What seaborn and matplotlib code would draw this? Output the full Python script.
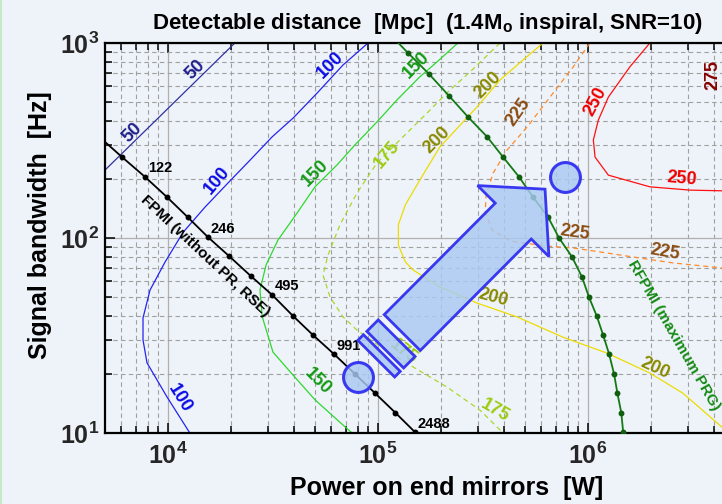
import numpy as np
import seaborn as sns
import matplotlib
matplotlib.use("Agg")
import matplotlib.pyplot as plt
from matplotlib.ticker import LogLocator, FuncFormatter, NullFormatter
from matplotlib.patches import Polygon
from matplotlib.colors import to_rgba

# Seaborn base, then fonts
sns.set_theme(style="ticks")
plt.rcParams.update({
    "font.family": ["Liberation Sans", "DejaVu Sans"],
    "font.weight": "bold",
    "mathtext.fontset": "custom",
    "mathtext.rm": "Liberation Sans:bold",
    "mathtext.it": "Liberation Sans:italic:bold",
    "mathtext.bf": "Liberation Sans:bold",
})

bg = "#eef3f9"

# contour lines of detectable distance (power [W], bandwidth [Hz])
c50_p = [5.01e3, 2.08e4]
c50_f = [223, 1000]

c100_p = [8.96e4, 6.81e4, 5.13e4, 3.94e4, 3.13e4, 2.46e4, 1.97e4, 1.50e4, 1.18e4,
          9.68e3, 8.21e3, 7.60e3, 7.60e3, 7.94e3, 9.89e3, 1.27e4]
c100_f = [1000, 771, 554, 412, 330, 251, 196, 144, 107, 75.3, 54.1, 38.9, 30.0, 22.9, 15.3, 10]

c150_p = [2.40e5, 1.91e5, 1.58e5, 1.23e5, 9.89e4, 7.76e4, 6.38e4, 5.01e4, 4.11e4,
          3.34e4, 2.93e4, 2.74e4, 2.81e4, 3.16e4, 3.94e4, 5.01e4, 6.38e4, 7.52e4]
c150_f = [1000, 800, 670, 510, 394, 300, 237, 183, 134, 97.7, 72.8, 54.1, 39.4, 26.0,
          19.8, 14.8, 11.7, 10]

c175_p = [3.81e5, 2.74e5, 2.20e5, 1.71e5, 1.27e5, 9.89e4, 7.94e4, 6.59e4, 5.78e4,
          5.47e4, 5.91e4, 6.81e4, 7.94e4, 1.08e5, 1.47e5, 2.13e5, 3.06e5, 3.94e5]
c175_f = [1000, 710, 574, 437, 318, 243, 170, 117, 81.8, 64.6, 49.8, 39.4, 33.7, 26.7,
          21.8, 17.2, 13.1, 10]

c200_p = [6.11e5, 4.90e5, 3.81e5, 2.96e5, 1.97e5, 1.58e5, 1.35e5, 1.25e5, 1.25e5, 1.35e5,
          1.47e5, 1.97e5, 2.96e5, 4.59e5, 7.60e5, 1.23e6, 1.97e6, 2.83e6, 4.35e6, 4.74e6]
c200_f = [1000, 818, 646, 470, 293, 198, 148, 117, 92.0, 75.3, 68.5, 56.1, 46.4, 39.4,
          31.0, 25.7, 20.3, 16.0, 10.7, 9.9]

c225_p = [1.02e6, 8.49e5, 6.59e5, 5.13e5, 4.11e5, 3.53e5, 3.27e5, 3.24e5, 3.49e5,
          4.26e5, 6.24e5, 8.49e5, 1.23e6, 1.77e6, 2.54e6, 4.35e6, 5.01e6]
c225_f = [1000, 753, 528, 371, 282, 215, 166, 136, 110, 96.6, 91.0, 88.9, 83.8, 78.9,
          74.5, 70.2, 68.5]

c250_p = [1.97e6, 1.58e6, 1.25e6, 1.12e6, 1.06e6, 1.08e6, 1.25e6, 1.97e6, 3.06e6, 5.01e6]
c250_f = [1000, 753, 528, 403, 318, 260, 210, 183, 176, 174]

# FPMI (without PR, RSE) operating points
fpmi_start = (5.01e3, 311)
fpmi_p = [6.04e3, 7.76e3, 9.89e3, 1.24e4, 1.55e4, 1.95e4, 2.48e4, 3.13e4, 3.94e4,
          4.90e4, 6.17e4, 7.76e4, 9.68e4, 1.21e5, 1.50e5]
fpmi_f = [260, 206, 162, 128, 101, 80.9, 63.8, 51.1, 39.8, 31.8, 25.4, 20.1, 16.0, 12.7, 10.1]
fpmi_label_idx = [1, 4, 7, 10, 14]
fpmi_labels = ["122", "246", "495", "991", "2488"]

# RFPMI (maximum PRG) operating points
rfpmi_start = (1.25e5, 1000)
rfpmi_p = [1.39e5, 1.75e5, 2.18e5, 2.68e5, 3.31e5, 3.94e5, 4.69e5, 5.47e5, 6.45e5, 7.28e5,
           8.39e5, 9.36e5, 1.01e6, 1.10e6, 1.18e6, 1.26e6, 1.33e6, 1.38e6, 1.44e6, 1.47e6]
rfpmi_f = [889, 693, 535, 418, 330, 260, 206, 162, 128, 100, 80.0, 63.1, 49.8, 39.8,
           31.8, 25.4, 20.1, 16.0, 12.7, 10.1]

# arrow from the current design to the target design
arrow_start = (8.04e4, 19.4)
arrow_tip = (6.24e5, 178)
target_point = (7.76e5, 206)

# contour labels: text, power, bandwidth, rotation
label_text = ["50", "50", "100", "100", "100", "150", "150", "150", "175", "175", "175",
              "200", "200", "200", "200", "225", "225", "225", "250", "250", "275"]
label_p = [1.35e4, 6.74e3, 5.91e4, 1.71e4, 1.14e4, 1.53e5, 5.01e4, 5.18e4, 1.10e5, 1.32e5,
           3.61e5, 3.34e5, 1.91e5, 3.53e5, 2.08e6, 4.64e5, 8.67e5, 2.33e6, 1.08e6, 2.81e6,
           3.94e6]
label_f = [727, 345, 771, 198, 15.1, 771, 215, 18.3, 267, 26.0, 13.1, 609, 318, 49.2, 21.5,
           443, 106, 84.7, 498, 201, 685]
label_rot = [45, 45, 45, 50, -58, 45, 45, -45, 50, -38, -30, 45, 45, -15, -25, 55, -8, -10,
             62, -5, 90]

line_style = {
    "50": ("#3030a0", "-"), "100": ("#2424f0", "-"), "150": ("#2ed82e", "-"),
    "175": ("#a8d82a", (0, (4, 3))), "200": ("#ecdc00", "-"),
    "225": ("#ff8a2a", (0, (4, 3))), "250": ("#ff1010", "-"),
}
label_color = {"50": "#1e1e8a", "100": "#0a0ae6", "150": "#149a14", "175": "#9ccc10",
               "200": "#8a8a00", "225": "#8a4c12", "250": "#f00000", "275": "#880000"}

contours = {"50": (c50_p, c50_f), "100": (c100_p, c100_f), "150": (c150_p, c150_f),
            "175": (c175_p, c175_f), "200": (c200_p, c200_f), "225": (c225_p, c225_f),
            "250": (c250_p, c250_f)}

fig = plt.figure(figsize=(7.22, 5.04), dpi=100, facecolor=bg)
ax = fig.add_axes([105 / 722, 71 / 504, 630 / 722, 390 / 504], facecolor=bg)
ax.set_xscale("log")
ax.set_yscale("log")
ax.set_xlim(5.01e3, 5.01e6)
ax.set_ylim(10, 1000)

for key, (xs, ys) in contours.items():
    c, ls = line_style[key]
    sns.lineplot(x=xs, y=ys, sort=False, estimator=None, color=c, linestyle=ls,
                 linewidth=0.9, ax=ax, zorder=2)

sns.lineplot(x=[fpmi_start[0]] + fpmi_p, y=[fpmi_start[1]] + fpmi_f, sort=False,
             estimator=None, color="black", linewidth=1.3, ax=ax, zorder=3)
sns.scatterplot(x=fpmi_p, y=fpmi_f, color="black", s=18, linewidth=0, ax=ax, zorder=3)
sns.lineplot(x=[rfpmi_start[0]] + rfpmi_p, y=[rfpmi_start[1]] + rfpmi_f, sort=False,
             estimator=None, color="#137a13", linewidth=1.3, ax=ax, zorder=3)
sns.scatterplot(x=rfpmi_p, y=rfpmi_f, color="#0f5f0f", s=18, linewidth=0, ax=ax, zorder=3)

for i, txt in zip(fpmi_label_idx, fpmi_labels):
    ax.annotate(txt, (fpmi_p[i], fpmi_f[i]), xytext=(2, 1), textcoords="offset points",
                ha="left", va="bottom", fontsize=10.5, fontweight="bold", color="black",
                zorder=4)

for txt, p, f, r in zip(label_text, label_p, label_f, label_rot):
    ax.text(p, f, txt, rotation=r, rotation_mode="anchor", ha="center", va="center",
            fontsize=13, fontweight="bold", color=label_color[txt], zorder=4)

ax.text(1.50e4, 80.9, "FPMI (without PR, RSE)", rotation=-43, rotation_mode="anchor",
        ha="center", va="center", fontsize=11, fontweight="bold", color="black", zorder=4)
ax.text(2.55e6, 31.5, "RFPMI (maximum PRG)", rotation=-60, rotation_mode="anchor",
        ha="center", va="center", fontsize=11, fontweight="bold", color="#138a13",
        zorder=4)

# big arrow, built in screen space along start -> tip
fill = to_rgba("#a9c9f2", 0.82)
edge = "#3838f0"
s0 = ax.transData.transform(arrow_start)
t0 = ax.transData.transform(arrow_tip)
d = t0 - s0
L = np.hypot(*d)
u = d / L
n = np.array([-u[1], u[0]])


def frame(pts):
    xy = np.array([s0 + u * a * L + n * b * L for a, b in pts])
    return ax.transData.inverted().transform(xy)


arrow_shape = [(0.236, -0.096), (0.830, -0.096), (0.830, -0.19), (1.0, 0.0),
               (0.830, 0.19), (0.830, 0.096), (0.236, 0.096)]
seg1 = [(0.145, -0.098), (0.206, -0.098), (0.206, 0.098), (0.145, 0.098)]
seg2 = [(0.097, -0.098), (0.127, -0.098), (0.127, 0.098), (0.097, 0.098)]
for shape in (arrow_shape, seg1, seg2):
    ax.add_patch(Polygon(frame(shape), closed=True, facecolor=fill, edgecolor=edge,
                         linewidth=2.0, zorder=5))

for pt in (arrow_start, target_point):
    ax.plot([pt[0]], [pt[1]], "o", ms=21.5, mfc=fill, mec=edge, mew=2.2, zorder=5)

# axes styling
ax.xaxis.set_major_locator(LogLocator(base=10))
ax.yaxis.set_major_locator(LogLocator(base=10))
ax.xaxis.set_minor_locator(LogLocator(base=10, subs=np.arange(2, 10)))
ax.yaxis.set_minor_locator(LogLocator(base=10, subs=np.arange(2, 10)))
fmt = FuncFormatter(lambda v, pos: r"$\mathrm{10^{%d}}$" % round(np.log10(v)))
ax.xaxis.set_major_formatter(fmt)
ax.yaxis.set_major_formatter(fmt)
ax.xaxis.set_minor_formatter(NullFormatter())
ax.yaxis.set_minor_formatter(NullFormatter())

ax.set_axisbelow(True)
ax.grid(which="major", color="#b0b0b0", linewidth=0.9, linestyle="-")
ax.grid(which="minor", color="#a0a0a0", linewidth=0.8, linestyle=(0, (4, 3)))
ax.tick_params(which="both", direction="in", top=True, right=True, color="black",
               width=1.1)
ax.tick_params(which="major", length=7, labelsize=18)
ax.tick_params(axis="x", which="major", pad=7)
ax.tick_params(axis="y", which="major", pad=4)
ax.tick_params(which="minor", length=5)
for sp in ax.spines.values():
    sp.set_linewidth(1.6)
    sp.set_color("black")

ax.set_xlabel("Power on end mirrors  [W]", fontsize=18, fontweight="bold",
              color="black", va="center")
ax.xaxis.set_label_coords(0.543, -0.141)
ax.set_ylabel("Signal bandwidth  [Hz]", fontsize=18, fontweight="bold",
              color="black", va="center")
ax.yaxis.set_label_coords(-0.103, 0.533)

fig.text(427 / 722, 1 - 24 / 504,
         r"Detectable distance  [Mpc]  (1.4M$_\mathrm{o}$ inspiral, SNR=10)",
         ha="center", va="center", fontsize=16, fontweight="bold", color="black")

fig.add_artist(plt.Line2D([0.0015, 0.0015], [0, 1], transform=fig.transFigure,
                          color="#c4ecc4", linewidth=1.5))

plt.savefig("out.png", dpi=100, facecolor=bg)
